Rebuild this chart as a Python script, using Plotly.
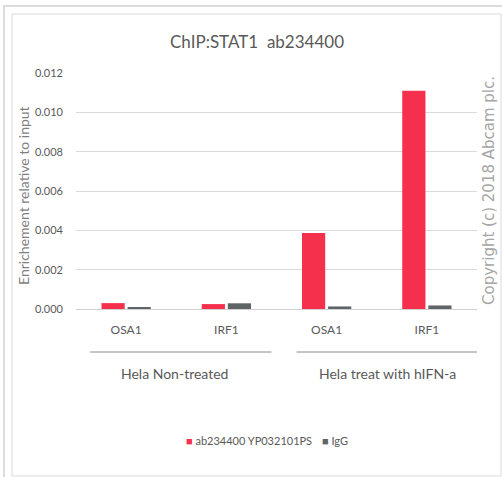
import plotly.graph_objects as go

# ---- data ----
genes = ["OSA1", "IRF1", "OSA1", "IRF1"]
groups = ["Hela Non-treated", "Hela treat with hIFN-a"]
group_members = [[0, 1], [2, 3]]
series_names = ["ab234400 YP032101PS", "IgG"]
stat1_values = [0.00030, 0.00025, 0.00387, 0.01110]
igg_values = [0.00007, 0.00029, 0.00013, 0.00018]
y_ticks = [0.000, 0.002, 0.004, 0.006, 0.008, 0.010, 0.012]
y_tick_labels = ["0.000", "0.002", "0.004", "0.006", "0.008", "0.010", "0.012"]

RED = "#f5304c"
GRAY = "#5f6566"
TXT = "#595959"
FONT = "Lato"

W, H = 502, 477
L, R, T, B = 76, 25, 73, 168
PW, PH = W - L - R, H - T - B


def px(xp):
    return (xp - L) / PW


def py(yp):
    return (H - B - yp) / PH


xpos = list(range(len(genes)))

fig = go.Figure()
fig.add_trace(go.Bar(x=xpos, y=stat1_values, name=series_names[0],
                     marker=dict(color=RED, line=dict(width=0))))
fig.add_trace(go.Bar(x=xpos, y=igg_values, name=series_names[1],
                     marker=dict(color=GRAY, line=dict(width=0))))

shapes = []
# outer frame
shapes.append(dict(type="rect", xref="paper", yref="paper",
                   x0=px(4), x1=px(520), y0=py(6), y1=py(500),
                   line=dict(color="#dcdcdc", width=2), layer="below"))
# inner box
shapes.append(dict(type="rect", xref="paper", yref="paper",
                   x0=px(12), x1=px(501), y0=py(14), y1=py(476),
                   line=dict(color="#d9d9d9", width=1), layer="below"))

annotations = []
group_line_extents = [(-0.36, 1.45), (1.70, 3.5)]
group_label_shift = [-6, 1]
for gname, members, (a, b), sh in zip(groups, group_members, group_line_extents, group_label_shift):
    shapes.append(dict(type="line", xref="x", yref="paper",
                       x0=a, x1=b, y0=py(352), y1=py(352),
                       line=dict(color="#8c8c8c", width=1)))
    annotations.append(dict(text=gname, xref="x", yref="paper",
                            x=(a + b) / 2, xshift=sh, y=py(373), showarrow=False,
                            font=dict(family=FONT, size=14, color=TXT),
                            xanchor="center", yanchor="middle"))

annotations.append(dict(text="Enrichement relative to input", xref="paper", yref="paper",
                        x=px(23), y=py(196), textangle=-90, showarrow=False,
                        font=dict(family=FONT, size=14, color="#7f7f7f"),
                        xanchor="center", yanchor="middle"))
annotations.append(dict(text="Copyright (c) 2018 Abcam plc.", xref="paper", yref="paper",
                        x=px(489), y=py(190), textangle=-90, showarrow=False,
                        font=dict(family="DejaVu Sans", size=15, color="#a6a6a6"),
                        xanchor="center", yanchor="middle"))
annotations.append(dict(text="ChIP:STAT1  ab234400", xref="paper", yref="paper",
                        x=px(257), y=py(42), showarrow=False,
                        font=dict(family=FONT, size=17, color=TXT),
                        xanchor="center", yanchor="middle"))

# legend drawn as text with coloured square markers
legend_colors = [RED, GRAY]
legend_x = [187, 323]
for name, col, lx in zip(series_names, legend_colors, legend_x):
    annotations.append(dict(
        text=f"<span style='color:{col}'>■</span> {name}",
        xref="paper", yref="paper", x=px(lx - 3), y=py(440), showarrow=False,
        font=dict(family=FONT, size=11, color=TXT),
        xanchor="left", yanchor="middle"))

fig.update_layout(
    width=W, height=H,
    margin=dict(l=L, r=R, t=T, b=B, autoexpand=False),
    paper_bgcolor="white", plot_bgcolor="white",
    barmode="group", bargap=0.48, bargroupgap=0.11,
    showlegend=False,
    shapes=shapes, annotations=annotations,
    xaxis=dict(tickmode="array", tickvals=xpos, ticktext=genes, range=[-0.5, 3.5],
               showgrid=False, showline=False, zeroline=False, ticks="",
               ticklabelstandoff=12, automargin=False,
               tickfont=dict(family=FONT, size=12, color=TXT)),
    yaxis=dict(range=[0, 0.012], tickmode="array", tickvals=y_ticks, ticktext=y_tick_labels,
               showgrid=True, gridcolor="#d9d9d9", gridwidth=1, zeroline=True,
               zerolinecolor="#d0d0d0", zerolinewidth=1, showline=False, ticks="",
               ticklabelstandoff=12, automargin=False,
               tickfont=dict(family=FONT, size=11, color=TXT)),
)

fig.write_html("out.html", post_script="document.body.style.margin='0';",
               config={"displayModeBar": False})
